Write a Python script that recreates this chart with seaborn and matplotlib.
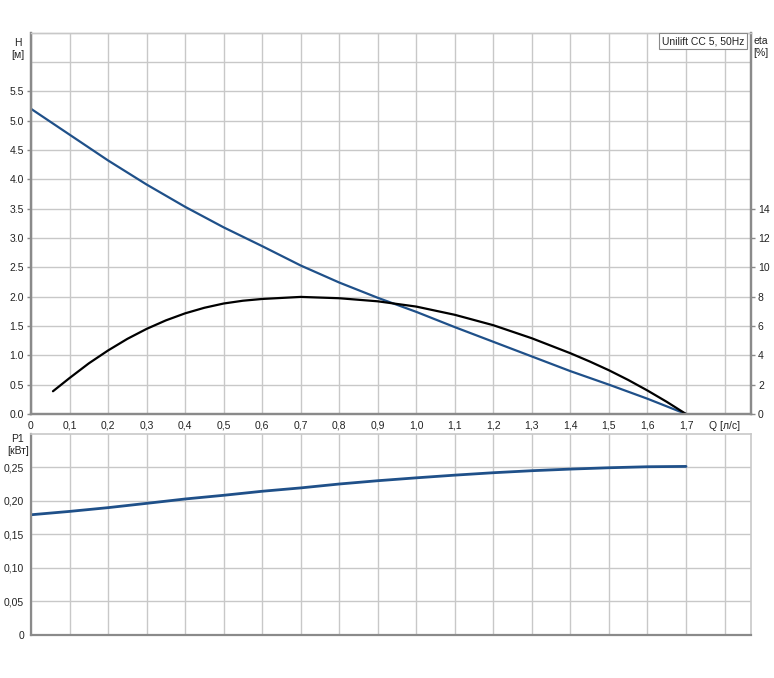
import matplotlib
matplotlib.use("Agg")
import matplotlib.pyplot as plt
import seaborn as sns

# pump curve readings, Unilift CC 5, 50Hz
q_head = [0.0, 0.1, 0.2, 0.3, 0.4, 0.5, 0.6, 0.7, 0.8, 0.9,
          1.0, 1.1, 1.2, 1.3, 1.4, 1.5, 1.6, 1.7]
head = [5.20, 4.76, 4.32, 3.91, 3.53, 3.18, 2.86, 2.53, 2.24, 1.98,
        1.74, 1.48, 1.23, 0.98, 0.73, 0.50, 0.26, 0.0]

q_eta = [0.057, 0.1, 0.15, 0.2, 0.25, 0.3, 0.35, 0.4, 0.45, 0.5,
         0.55, 0.6, 0.7, 0.8, 0.9, 1.0, 1.1, 1.2, 1.3, 1.4,
         1.45, 1.5, 1.55, 1.6, 1.65, 1.7]
eta = [1.55, 2.45, 3.45, 4.33, 5.12, 5.80, 6.38, 6.86, 7.24, 7.53,
       7.72, 7.84, 7.98, 7.89, 7.68, 7.32, 6.76, 6.05, 5.16, 4.14,
       3.58, 2.98, 2.32, 1.60, 0.83, 0.0]

q_p1 = q_head
p1 = [0.179, 0.184, 0.1896, 0.196, 0.2025, 0.208, 0.214, 0.219, 0.2248, 0.2297,
      0.234, 0.238, 0.2416, 0.2446, 0.247, 0.249, 0.2505, 0.251]

x_ticks = [0.0, 0.1, 0.2, 0.3, 0.4, 0.5, 0.6, 0.7, 0.8, 0.9,
           1.0, 1.1, 1.2, 1.3, 1.4, 1.5, 1.6, 1.7, 1.8]
x_labels = ["0", "0,1", "0,2", "0,3", "0,4", "0,5", "0,6", "0,7", "0,8", "0,9",
            "1,0", "1,1", "1,2", "1,3", "1,4", "1,5", "1,6", "1,7", "Q [л/с]"]
h_ticks = [0.0, 0.5, 1.0, 1.5, 2.0, 2.5, 3.0, 3.5, 4.0, 4.5, 5.0, 5.5]
h_labels = ["0.0", "0.5", "1.0", "1.5", "2.0", "2.5", "3.0", "3.5", "4.0", "4.5", "5.0", "5.5"]
eta_ticks = [0, 2, 4, 6, 8, 10, 12, 14]
p_ticks = [0.0, 0.05, 0.10, 0.15, 0.20, 0.25]
p_labels = ["0", "0,05", "0,10", "0,15", "0,20", "0,25"]

sns.set_style("white")
plt.rcParams["font.family"] = ["Liberation Sans", "DejaVu Sans"]
FS = 7.5
plt.rcParams["font.size"] = FS

BLUE = "#1f5089"
GRID = "#c8c8c8"
SPINE = "#8a8a8a"
TXT = "#222222"

W, H = 774, 678
fig = plt.figure(figsize=(W / 100, H / 100), dpi=100)
ax = fig.add_axes([31 / W, 1 - 414 / H, 720 / W, 381.5 / H])
ax2 = ax.twinx()
axp = fig.add_axes([31 / W, 1 - 635 / H, 720 / W, 201.5 / H])

xmax = 720 / 385.3

# top panel: head + efficiency
sns.lineplot(x=q_head, y=head, ax=ax, color=BLUE, linewidth=1.6)
sns.lineplot(x=q_eta, y=eta, ax=ax2, color="black", linewidth=1.6)

ax.set_xlim(0, xmax)
ax.set_ylim(0, 6.5)
ax2.set_ylim(0, 26)
ax.set_xticks(x_ticks)
ax.set_xticklabels(x_labels)
ax.set_yticks(h_ticks)
ax.set_yticklabels(h_labels)
ax2.set_yticks(eta_ticks)
ax.axhline(6.0, color=GRID, linewidth=1, zorder=0)
ax.grid(True, color=GRID, linewidth=1)
ax.set_axisbelow(True)
ax.set_xlabel("")
ax.set_ylabel("")
ax2.set_ylabel("")

for a in (ax, ax2):
    for s in a.spines.values():
        s.set_color(SPINE)
        s.set_linewidth(1.6)
    a.spines["top"].set_color(GRID)
    a.spines["top"].set_linewidth(1)
    a.tick_params(direction="out", length=3, width=1, color=SPINE,
                  labelcolor=TXT, labelsize=FS, pad=2)

ax.text(-0.034, 6.22, "H\n[м]", ha="center", va="center", color=TXT,
        fontsize=FS, linespacing=1.25, clip_on=False)
ax2.text(1.875, 25.0, "eta\n[%]", ha="left", va="center", color=TXT,
         fontsize=FS, linespacing=1.25, clip_on=False)
ax2.text(0.9905, 0.9905, "Unilift CC 5, 50Hz", transform=ax2.transAxes,
         ha="right", va="top", color=TXT, fontsize=FS,
         bbox=dict(boxstyle="square,pad=0.3", facecolor="white",
                   edgecolor=SPINE, linewidth=0.8))

# bottom panel: power P1
sns.lineplot(x=q_p1, y=p1, ax=axp, color=BLUE, linewidth=2.0)
axp.set_xlim(0, xmax)
axp.set_ylim(0, 0.30)
axp.set_xticks(x_ticks)
axp.set_xticklabels([])
axp.set_yticks(p_ticks)
axp.set_yticklabels(p_labels)
axp.grid(True, color=GRID, linewidth=1)
axp.set_axisbelow(True)
axp.set_xlabel("")
axp.set_ylabel("")
for name, s in axp.spines.items():
    if name in ("left", "bottom"):
        s.set_color(SPINE)
        s.set_linewidth(1.6)
    else:
        s.set_color(GRID)
        s.set_linewidth(1.2)
axp.tick_params(axis="y", direction="out", length=3, width=1, color=SPINE,
                labelcolor=TXT, labelsize=FS, pad=2)
axp.tick_params(axis="x", length=0)
axp.text(-0.034, 0.283, "P1\n[кВт]", ha="center", va="center", color=TXT,
         fontsize=FS, linespacing=1.25, clip_on=False)

fig.savefig("out.png", dpi=100, facecolor="white")
